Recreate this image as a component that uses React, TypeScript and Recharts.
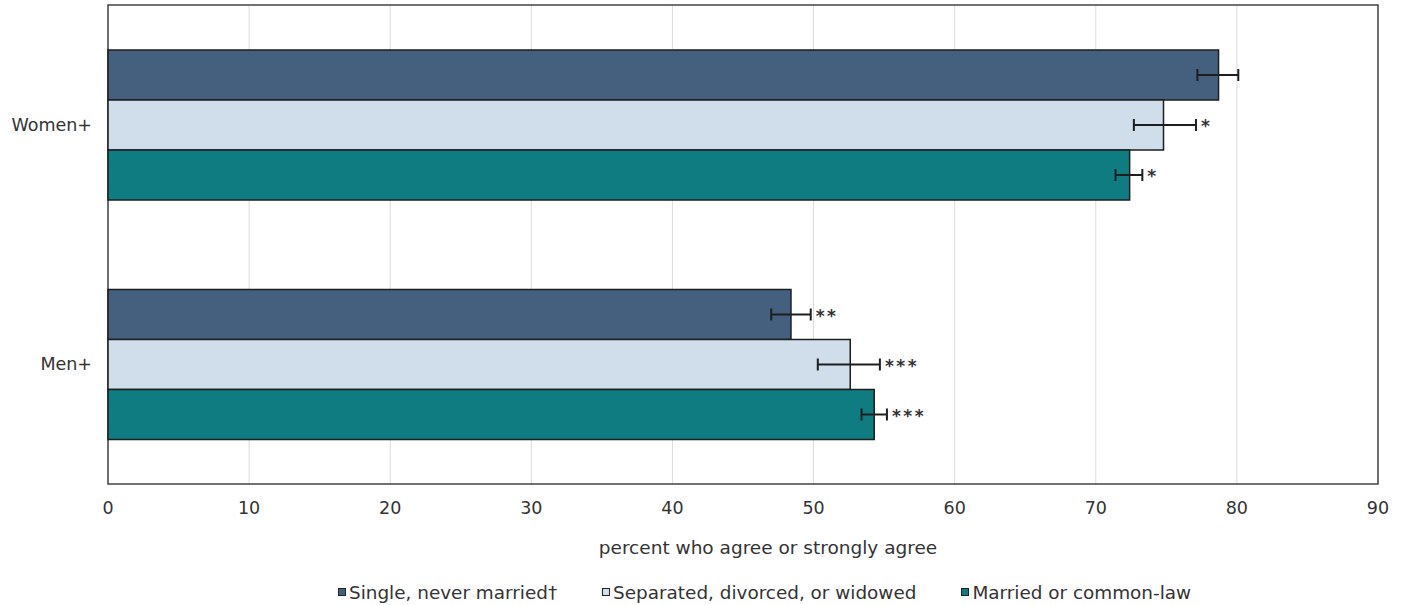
import {
  BarChart,
  Bar,
  XAxis,
  YAxis,
  CartesianGrid,
  ErrorBar,
  LabelList,
  Legend,
  ReferenceArea,
  Label,
} from 'recharts';

const FONT = '"DejaVu Sans", Verdana, sans-serif';

const groups = ['Women+', 'Men+'];

const singleValues = [78.7, 48.4];
const singleLow = [77.2, 47.0];
const singleHigh = [80.1, 49.8];
const singleMarks = ['', '**'];

const separatedValues = [74.8, 52.6];
const separatedLow = [72.7, 50.3];
const separatedHigh = [77.1, 54.7];
const separatedMarks = ['*', '***'];

const marriedValues = [72.4, 54.3];
const marriedLow = [71.4, 53.4];
const marriedHigh = [73.3, 55.2];
const marriedMarks = ['*', '***'];

const xTicks = [0, 10, 20, 30, 40, 50, 60, 70, 80, 90];

const series = [
  { key: 'single', name: 'Single, never married\u2020', color: '#455f7f' },
  { key: 'separated', name: 'Separated, divorced, or widowed', color: '#cfdeea' },
  { key: 'married', name: 'Married or common-law', color: '#0e7c80' },
];

const data = groups.map((group, i) => ({
  group,
  single: singleValues[i],
  singleErr: [singleValues[i] - singleLow[i], singleHigh[i] - singleValues[i]],
  singleHigh: singleHigh[i],
  singleMark: singleMarks[i],
  separated: separatedValues[i],
  separatedErr: [separatedValues[i] - separatedLow[i], separatedHigh[i] - separatedValues[i]],
  separatedHigh: separatedHigh[i],
  separatedMark: separatedMarks[i],
  married: marriedValues[i],
  marriedErr: [marriedValues[i] - marriedLow[i], marriedHigh[i] - marriedValues[i]],
  marriedHigh: marriedHigh[i],
  marriedMark: marriedMarks[i],
}));

// significance stars sit just past the upper end of each error bar
const makeMarkRenderer = (key: string) => (props: any) => {
  const { x, y, width, height, index, value } = props;
  const row = data[index] as any;
  if (!value) return null;
  const perUnit = width / row[key];
  const endX = x + row[`${key}High`] * perUnit;
  return (
    <text
      x={endX + 5}
      y={y + height / 2 + 7}
      fill="#333"
      fontSize={17}
      fontWeight="bold"
      letterSpacing={2.5}
      fontFamily={FONT}
    >
      {value}
    </text>
  );
};

const LegendContent = () => (
  <div
    style={{
      display: 'flex',
      justifyContent: 'flex-start',
      paddingLeft: 338,
      gap: 45,
      height: 30,
      alignItems: 'center',
      fontFamily: FONT,
      fontSize: 18.4,
      color: '#333',
    }}
  >
    {series.map((s) => (
      <div key={s.key} style={{ display: 'flex', alignItems: 'center' }}>
        <span
          style={{
            display: 'inline-block',
            width: 6,
            height: 6,
            background: s.color,
            border: '1.5px solid #222',
            marginRight: 3,
          }}
        />
        <span>{s.name}</span>
      </div>
    ))}
  </div>
);

export default function App() {
  return (
    <div style={{ position: 'absolute', left: 0, top: 0, background: '#fff' }}>
      <BarChart
        width={1405}
        height={605}
        data={data}
        layout="vertical"
        margin={{ top: 5, right: 27, bottom: 17, left: 0 }}
        barSize={50}
        barGap={0}
      >
        <CartesianGrid horizontal={false} stroke="#dcdcdc" strokeWidth={1} />
        <XAxis
          type="number"
          domain={[0, 90]}
          ticks={xTicks}
          interval={0}
          height={74}
          axisLine={false}
          tickLine={false}
          tickSize={0}
          tickMargin={18}
          tick={{ fill: '#333', fontSize: 17.5, fontFamily: FONT }}
        >
          <Label
            value="percent who agree or strongly agree"
            position="insideBottom"
            offset={4}
            dx={25}
            fill="#333"
            fontSize={18.5}
            fontFamily={FONT}
          />
        </XAxis>
        <YAxis
          type="category"
          dataKey="group"
          width={108}
          axisLine={false}
          tickLine={false}
          tickSize={0}
          tickMargin={16}
          tick={{ fill: '#333', fontSize: 17.5, fontFamily: FONT }}
        />
        {series.map((s) => (
          <Bar
            key={s.key}
            dataKey={s.key}
            name={s.name}
            fill={s.color}
            stroke="#1e1e1e"
            strokeWidth={1.5}
            isAnimationActive={false}
          >
            <ErrorBar
              dataKey={`${s.key}Err`}
              direction="x"
              width={6}
              stroke="#1e1e1e"
              strokeWidth={2}
              isAnimationActive={false}
            />
            <LabelList dataKey={`${s.key}Mark`} content={makeMarkRenderer(s.key)} />
          </Bar>
        ))}
        <ReferenceArea
          x1={0}
          x2={90}
          fill="none"
          stroke="#444"
          strokeWidth={1.5}
          ifOverflow="visible"
        />
        <Legend
          content={<LegendContent />}
          wrapperStyle={{ top: 577, bottom: 'auto', left: 0, width: 1405 }}
        />
      </BarChart>
    </div>
  );
}
